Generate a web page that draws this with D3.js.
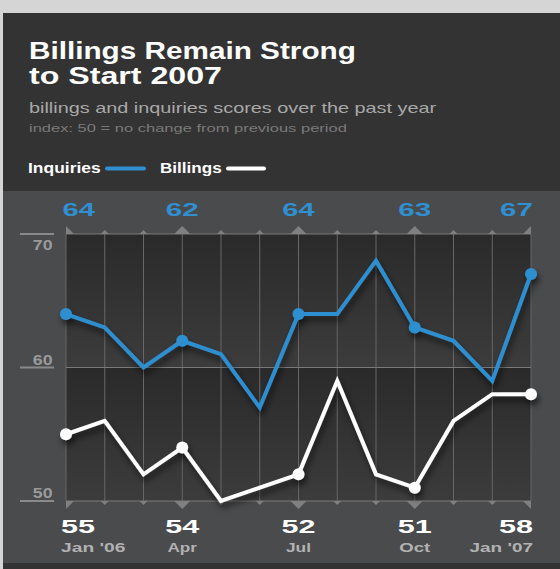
<!DOCTYPE html>
<html>
<head>
<meta charset="utf-8">
<script src="https://cdn.jsdelivr.net/npm/d3@7"></script>
<style>
  body { margin: 0; background: #d5d5d5; }
  svg { display: block; }
</style>
</head>
<body>
<div id="chart"></div>
<script>
// data
var months = ["Jan '06", "Feb", "Mar", "Apr", "May", "Jun", "Jul", "Aug", "Sep", "Oct", "Nov", "Dec", "Jan '07"];
var inquiries = [64, 63, 60, 62, 61, 57, 64, 64, 68, 63, 62, 59, 67];
var billings  = [55, 56, 52, 54, 50, 51, 52, 59, 52, 51, 56, 58, 58];
var quarters = [0, 3, 6, 9, 12];
var yTicks = [50, 60, 70];

var FONT = "'Liberation Sans', Arial, Helvetica, sans-serif";
var BLUE = "#2f8fd0";

var width = 560, height = 569;

var svg = d3.select("#chart")
  .append("svg")
    .attr("width", width)
    .attr("height", height);

var defs = svg.append("defs");

var grad = defs.append("linearGradient")
    .attr("id", "band")
    .attr("x1", 0).attr("y1", 0).attr("x2", 0).attr("y2", 1);
grad.append("stop").attr("offset", "0%").attr("stop-color", "#2a2a2a");
grad.append("stop").attr("offset", "100%").attr("stop-color", "#3c3c3c");

var shadow = defs.append("filter")
    .attr("id", "shadow")
    .attr("x", "-10%").attr("y", "-20%")
    .attr("width", "120%").attr("height", "160%");
shadow.append("feDropShadow")
    .attr("dx", 2).attr("dy", 5)
    .attr("stdDeviation", 3)
    .attr("flood-color", "#000")
    .attr("flood-opacity", 0.6);

// text helper, stretched horizontally to the width seen in the reference
function label(g, str, x, y, o) {
  var t = g.append("text")
    .attr("transform", "translate(" + x + "," + y + ")")
    .attr("text-anchor", o.anchor || "start")
    .style("font-family", FONT)
    .style("font-size", o.size + "px")
    .style("font-weight", o.weight || "normal")
    .attr("fill", o.color)
    .text(str);
  if (o.width) {
    var w = t.node().getBBox().width;
    t.attr("transform", "translate(" + x + "," + y + ") scale(" + (o.width / w) + ",1)");
  }
  return t;
}

// backgrounds
svg.append("rect").attr("width", width).attr("height", height).attr("fill", "#d5d5d5");
svg.append("rect").attr("x", 3).attr("y", 13).attr("width", width - 3).attr("height", 178).attr("fill", "#333333");
svg.append("rect").attr("x", 3).attr("y", 191).attr("width", width - 3).attr("height", 372).attr("fill", "#4a4b4d");
svg.append("rect").attr("x", 3).attr("y", 563).attr("width", width - 3).attr("height", 6).attr("fill", "#333333");

// header
var head = svg.append("g");
label(head, "Billings Remain Strong", 29, 59, {size: 23, weight: "bold", color: "#fff", width: 327});
label(head, "to Start 2007", 29, 83.5, {size: 23, weight: "bold", color: "#fff", width: 193});
label(head, "billings and inquiries scores over the past year", 29, 113, {size: 14, color: "#a8a8a8", width: 408});
label(head, "index: 50 = no change from previous period", 29, 131.5, {size: 11.5, color: "#7a7a7a", width: 318});

// legend
label(head, "Inquiries", 28, 172.5, {size: 14, weight: "bold", color: "#fff", width: 73});
head.append("line").attr("x1", 107).attr("x2", 144).attr("y1", 168.5).attr("y2", 168.5)
  .attr("stroke", BLUE).attr("stroke-width", 4).attr("stroke-linecap", "round");
label(head, "Billings", 160, 172.5, {size: 14, weight: "bold", color: "#fff", width: 62});
head.append("line").attr("x1", 228).attr("x2", 264).attr("y1", 168.5).attr("y2", 168.5)
  .attr("stroke", "#fff").attr("stroke-width", 4).attr("stroke-linecap", "round");

// scales
var x = d3.scalePoint().domain(months).range([66, 531]);
var y = d3.scaleLinear().domain([50, 70]).range([501, 234]);

var plot = svg.append("g");
var x0 = x(months[0]), xN = x(months[months.length - 1]);

// two shaded bands
[[70, 60], [60, 50]].forEach(function(b) {
  plot.append("rect")
    .attr("x", x0).attr("y", y(b[0]))
    .attr("width", xN - x0).attr("height", y(b[1]) - y(b[0]))
    .attr("fill", "url(#band)");
});

// vertical grid
plot.selectAll(".vgrid")
  .data(months)
  .enter().append("line")
    .attr("x1", function(d) { return x(d); })
    .attr("x2", function(d) { return x(d); })
    .attr("y1", y(70)).attr("y2", y(50))
    .attr("stroke", "#676767").attr("stroke-width", 1);

// horizontal lines
plot.selectAll(".hgrid")
  .data(yTicks)
  .enter().append("line")
    .attr("x1", x0).attr("x2", xN)
    .attr("y1", function(d) { return y(d); })
    .attr("y2", function(d) { return y(d); })
    .attr("stroke", "#7a7a7a").attr("stroke-width", 1);

// y tick labels
yTicks.forEach(function(t) {
  plot.append("line").attr("x1", 20).attr("x2", 54)
    .attr("y1", y(t)).attr("y2", y(t))
    .attr("stroke", "#8a8a8a").attr("stroke-width", 2);
  label(plot, String(t), 52.5, t === 70 ? y(t) + 16 : y(t) - 3,
    {size: 14, weight: "bold", color: "#9a9a9a", anchor: "end", width: 20});
});

// tick triangles top and bottom
function tri(d, i, edge, dir) {
  var xx = x(d);
  var big = quarters.indexOf(i) >= 0;
  var h = big ? 8 : 4, w = big ? 8 : 4;
  if (i === 0) return "M" + xx + "," + edge + "L" + xx + "," + (edge + dir * 8) + "L" + (xx + 8) + "," + edge + "Z";
  if (i === months.length - 1) return "M" + xx + "," + edge + "L" + xx + "," + (edge + dir * 8) + "L" + (xx - 8) + "," + edge + "Z";
  return "M" + (xx - w) + "," + edge + "L" + xx + "," + (edge + dir * h) + "L" + (xx + w) + "," + edge + "Z";
}
plot.selectAll(".ttop")
  .data(months)
  .enter().append("path")
    .attr("d", function(d, i) { return tri(d, i, y(70), -1); })
    .attr("fill", "#808080");
plot.selectAll(".tbot")
  .data(months)
  .enter().append("path")
    .attr("d", function(d, i) { return tri(d, i, y(50), 1); })
    .attr("fill", "#808080");

// lines
var line = d3.line()
  .x(function(d, i) { return x(months[i]); })
  .y(function(d) { return y(d); });

function series(vals, color) {
  var g = plot.append("g").attr("filter", "url(#shadow)");
  g.append("path")
    .datum(vals)
    .attr("d", line)
    .attr("fill", "none")
    .attr("stroke", color)
    .attr("stroke-width", 4);
  g.selectAll("circle")
    .data(quarters)
    .enter().append("circle")
      .attr("cx", function(i) { return x(months[i]); })
      .attr("cy", function(i) { return y(vals[i]); })
      .attr("r", 6)
      .attr("fill", color);
}
series(billings, "#ffffff");
series(inquiries, BLUE);

// quarter labels
quarters.forEach(function(i, k) {
  var xx = x(months[i]);
  var anchor = k === 0 ? "start" : (k === quarters.length - 1 ? "end" : "middle");
  var dx = k === 0 ? -5 : (k === quarters.length - 1 ? 2 : 0);
  label(plot, String(inquiries[i]), xx + dx + (k === 0 ? 1.5 : 0), 216,
    {size: 19, weight: "bold", color: BLUE, anchor: anchor, width: 33});
  label(plot, String(billings[i]), xx + dx, 532.5,
    {size: 18, weight: "bold", color: "#ffffff", anchor: anchor, width: 34});
  var mw = {"Jan '06": 65, "Apr": 30, "Jul": 25, "Oct": 31, "Jan '07": 64}[months[i]];
  label(plot, months[i], xx + dx, 552,
    {size: 12, weight: "bold", color: "#b2b2b2", anchor: anchor, width: mw});
});
</script>
</body>
</html>
